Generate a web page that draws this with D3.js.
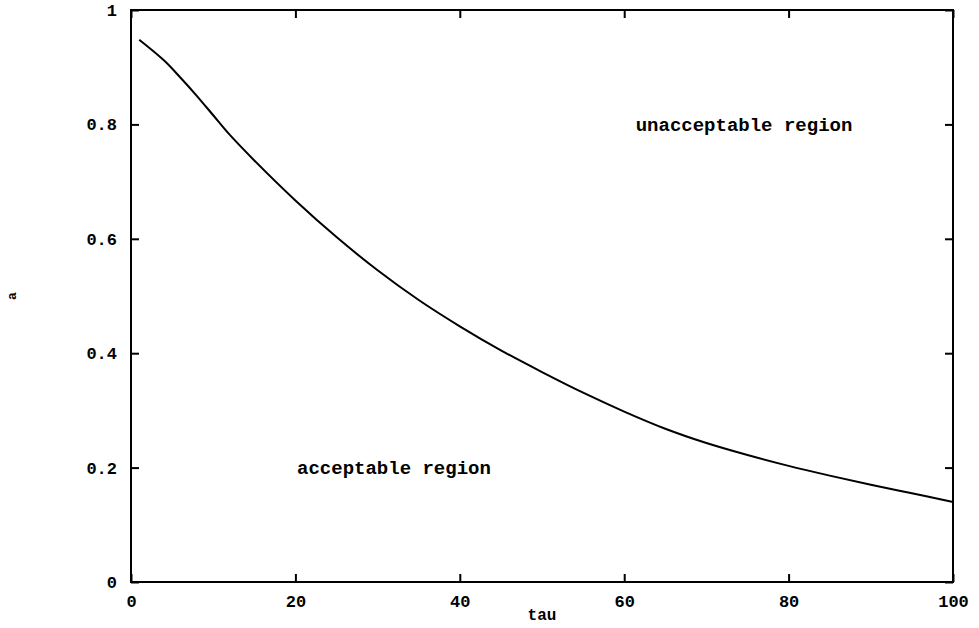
<!DOCTYPE html>
<html>
<head>
<meta charset="utf-8">
<script src="https://cdnjs.cloudflare.com/ajax/libs/d3/7.8.5/d3.min.js"></script>
<style>
  body { margin: 0; background: #fff; }
  #vis_container { width: 979px; height: 628px; }
  text { font-family: "Liberation Mono", "DejaVu Sans Mono", monospace; font-weight: bold; fill: #000; }
</style>
</head>
<body>
<div id="vis_container"></div>
<script>
// curve
var tau = [1, 4, 6, 8, 10, 12, 15, 20, 25, 30, 35, 40, 45, 50, 55, 60, 65, 70, 75, 80, 85, 90, 95, 100];
var aVals = [0.948, 0.912, 0.882, 0.850, 0.816, 0.782, 0.737, 0.667, 0.603, 0.545, 0.493, 0.447, 0.405, 0.367, 0.331, 0.298, 0.268, 0.243, 0.222, 0.203, 0.186, 0.170, 0.155, 0.140];
var xTicks = [0, 20, 40, 60, 80, 100];
var yTicks = [0, 0.2, 0.4, 0.6, 0.8, 1];
var regionLabels = [
  {text: "unacceptable region", tau: 61.4, a: 0.80},
  {text: "acceptable region", tau: 20.2, a: 0.20}
];

var chart = {};
chart.width = 979;
chart.height = 628;
chart.margin = {top: 10, left: 131, right: 26, bottom: 46};

chart.svg = d3.select("#vis_container").append("svg")
  .attr("width", chart.width)
  .attr("height", chart.height);

chart.x = d3.scaleLinear()
  .domain([0, 100])
  .range([chart.margin.left, chart.width - chart.margin.right]);
chart.y = d3.scaleLinear()
  .domain([0, 1])
  .range([chart.height - chart.margin.bottom, chart.margin.top]);

var x0 = chart.x(0), x1 = chart.x(100), y0 = chart.y(0), y1 = chart.y(1);

// frame
chart.svg.append("rect")
  .attr("x", x0).attr("y", y1)
  .attr("width", x1 - x0).attr("height", y0 - y1)
  .attr("fill", "none").attr("stroke", "#000").attr("stroke-width", 2);

// axes with inward ticks
function noDomain(g) { g.select(".domain").remove(); }
chart.svg.append("g")
  .attr("transform", "translate(0," + y0 + ")")
  .call(d3.axisBottom(chart.x).tickValues(xTicks).tickSizeInner(-8).tickPadding(13).tickFormat(d3.format("d")))
  .call(noDomain);
chart.svg.append("g")
  .attr("transform", "translate(0," + y1 + ")")
  .call(d3.axisTop(chart.x).tickValues(xTicks).tickSizeInner(-8).tickFormat(""))
  .call(noDomain);
chart.svg.append("g")
  .attr("transform", "translate(" + x0 + ",0)")
  .call(d3.axisLeft(chart.y).tickValues(yTicks).tickSizeInner(-8).tickPadding(14).tickFormat(function(d) { return d === 0 || d === 1 ? d3.format("d")(d) : d3.format(".1f")(d); }))
  .call(noDomain);
chart.svg.append("g")
  .attr("transform", "translate(" + x1 + ",0)")
  .call(d3.axisRight(chart.y).tickValues(yTicks).tickSizeInner(-8).tickFormat(""))
  .call(noDomain);

chart.svg.selectAll(".tick line").attr("stroke", "#000").attr("stroke-width", 2);
chart.svg.selectAll(".tick text")
  .style("font-family", "'Liberation Mono', monospace")
  .style("font-weight", "bold")
  .style("font-size", "17px")
  .attr("fill", "#000");

// axis titles
chart.svg.append("text")
  .attr("x", (x0 + x1) / 2).attr("y", 620)
  .attr("text-anchor", "middle")
  .style("font-size", "16px")
  .text("tau");
chart.svg.append("text")
  .attr("transform", "translate(16," + (chart.y(0.5)) + ") rotate(-90)")
  .attr("text-anchor", "middle")
  .style("font-size", "13px")
  .text("a");

// curve
var line = d3.line()
  .x(function(d, i) { return chart.x(tau[i]); })
  .y(function(d) { return chart.y(d); })
  .curve(d3.curveCatmullRom);
chart.svg.append("path")
  .datum(aVals)
  .attr("d", line)
  .attr("fill", "none")
  .attr("stroke", "#000")
  .attr("stroke-width", 2);

// region labels
chart.svg.selectAll(".region")
  .data(regionLabels)
  .enter().append("text")
  .attr("class", "region")
  .attr("x", function(d) { return chart.x(d.tau); })
  .attr("y", function(d) { return chart.y(d.a); })
  .attr("dy", "0.35em")
  .style("font-size", "19px")
  .text(function(d) { return d.text; });
</script>
</body>
</html>
